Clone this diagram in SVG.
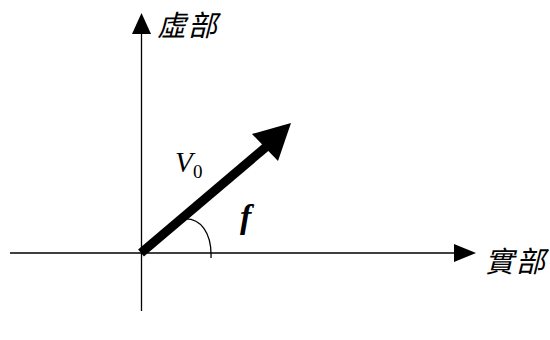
<svg xmlns="http://www.w3.org/2000/svg" width="550" height="340" viewBox="0 0 550 340">
<style>
.ax{stroke:#000;stroke-width:1.3;fill:none}
.cjk{font-family:"Noto Sans CJK TC","Noto Sans CJK SC",sans-serif;font-style:italic;font-size:29px;letter-spacing:2px;fill:#000}
.v{font-family:"Liberation Serif","Times New Roman",serif;font-style:italic;font-size:29px;fill:#000}
.sub{font-family:"Liberation Serif","Times New Roman",serif;font-size:19px;fill:#000}
.phi{font-family:"Liberation Serif","Times New Roman",serif;font-style:italic;font-weight:bold;font-size:34px;fill:#000}
</style>
<rect width="550" height="340" fill="#fff"/>
<g id="connectors">
<line class="ax" x1="141.5" y1="311" x2="141.5" y2="33"/>
<polygon points="141.5,13 132,34 151,34" fill="#000"/>
<line class="ax" x1="10" y1="253" x2="455" y2="253"/>
<polygon points="476,253 454,244 454,262" fill="#000"/>
<line x1="141" y1="253" x2="266" y2="147" stroke="#000" stroke-width="9"/>
<polygon points="291,123 252,134 278,161" fill="#000"/>
<path class="ax" d="M184,219 C200,218 212,232 211,258"/>
</g>
<g id="imag-label"><text class="cjk" x="157" y="36">虛部</text></g>
<g id="real-label"><text class="cjk" x="485" y="272">實部</text></g>
<g id="v0-label"><text class="v" x="175" y="172">V</text><text class="sub" x="193" y="178">0</text></g>
<g id="phi-label"><text class="phi" x="240" y="228">f</text></g>
</svg>
